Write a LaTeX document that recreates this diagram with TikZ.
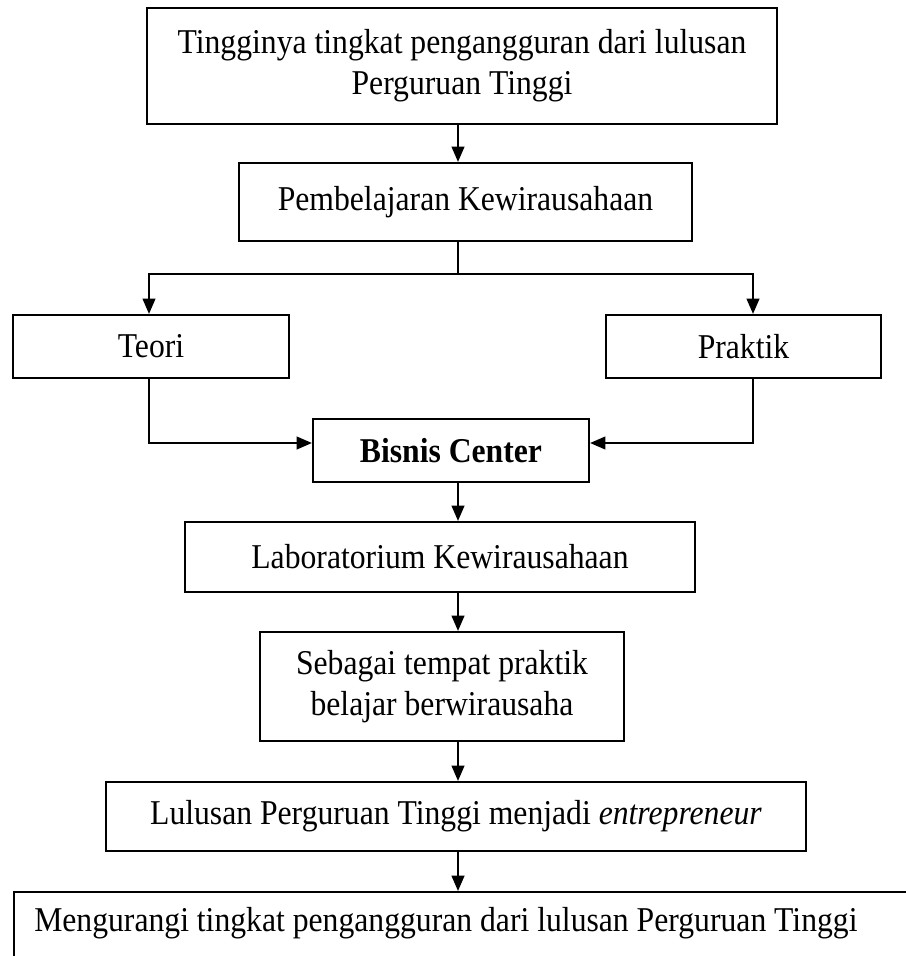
\documentclass[tikz,border=0pt]{standalone}
\usepackage{fontspec}
\setmainfont[FakeStretch=0.91]{Liberation Serif}
\usetikzlibrary{arrows.meta}
\tikzset{
  box/.style={draw, line width=1.6pt, align=center, inner sep=0pt,
    font=\fontsize{26.1pt}{31pt}\selectfont},
  conn/.style={line width=1.6pt},
  arr/.style={conn, -{Triangle[length=11.5pt,width=9.5pt]}}
}
\begin{document}
\begin{tikzpicture}[x=0.75pt, y=-0.75pt]
\useasboundingbox (0,0) rectangle (906,956);
\clip (0,0) rectangle (906,956);
% boxes (centres in px)
\node[box, minimum width=472.5pt, minimum height=87pt] (top) at (462,66)
  {Tingginya tingkat pengangguran dari lulusan\\Perguruan Tinggi};
\node[box, minimum width=339.75pt, minimum height=58.5pt] (pemb) at (465.5,202)
  {Pembelajaran Kewirausahaan};
\node[box, minimum width=207pt, minimum height=47.25pt] (teori) at (151,346.5) {Teori};
\node[box, minimum width=206.25pt, minimum height=47.25pt] (praktik) at (743.5,346.5) {Praktik};
\node[box, minimum width=207pt, minimum height=47.25pt] (bisnis) at (451,450.5)
  {\textbf{Bisnis Center}};
\node[box, minimum width=382.5pt, minimum height=52.5pt] (lab) at (440,557)
  {Laboratorium Kewirausahaan};
\node[box, minimum width=273pt, minimum height=81.75pt] (sebagai) at (442,686.5)
  {Sebagai tempat praktik\\belajar berwirausaha};
\node[box, minimum width=525pt, minimum height=51.75pt] (lulusan) at (456,816.5)
  {Lulusan Perguruan Tinggi menjadi \textit{entrepreneur}};
\node[box, anchor=north west, minimum width=690pt, minimum height=90pt] (mbox) at (13,891) {};
\node[anchor=base west, inner sep=0pt, font=\fontsize{26.1pt}{31pt}\selectfont] (mtext) at (34,931)
  {Mengurangi tingkat pengangguran dari lulusan Perguruan Tinggi};
% guide coordinates
\coordinate (cx) at (458,0);
\coordinate (lx) at (149,0);
\coordinate (rx) at (753,0);
\coordinate (split) at (458,274);
\coordinate (jy) at (0,443);
% connectors
\draw[arr] (top.south -| cx) -- (pemb.north -| cx);
\draw[conn] (pemb.south -| cx) -- (split);
\draw[arr] (split) -| (teori.north -| lx);
\draw[arr] (split) -| (praktik.north -| rx);
\draw[arr] (teori.south -| lx) |- (bisnis.west |- jy);
\draw[arr] (praktik.south -| rx) |- (bisnis.east |- jy);
\draw[arr] (bisnis.south -| cx) -- (lab.north -| cx);
\draw[arr] (lab.south -| cx) -- (sebagai.north -| cx);
\draw[arr] (sebagai.south -| cx) -- (lulusan.north -| cx);
\draw[arr] (lulusan.south -| cx) -- (mbox.north -| cx);
\end{tikzpicture}
\end{document}
